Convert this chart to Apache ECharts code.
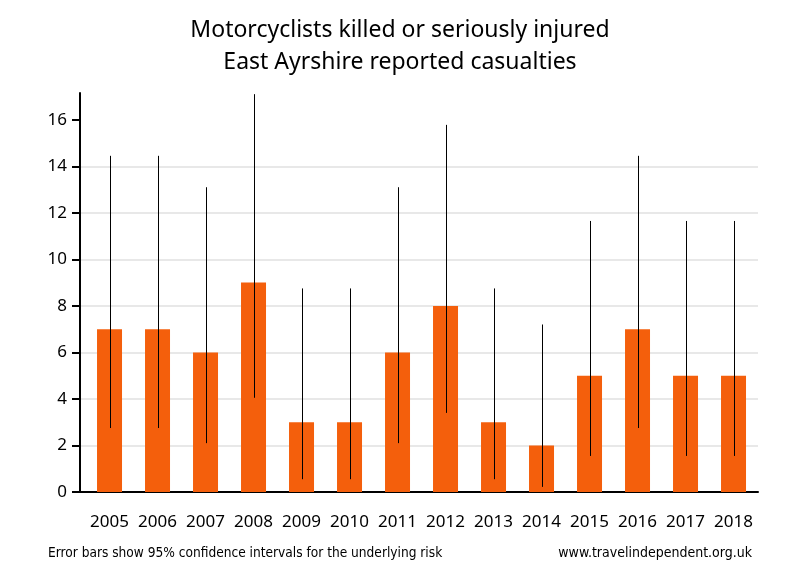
<!DOCTYPE html>
<html>
<head>
<meta charset="utf-8">
<script src="https://cdn.jsdelivr.net/npm/echarts@6/dist/echarts.min.js"></script>
<style>html,body{margin:0;padding:0;background:#fff}#c{width:800px;height:580px}</style>
</head>
<body>
<div id="c"></div>
<script>
const years = [2005,2006,2007,2008,2009,2010,2011,2012,2013,2014,2015,2016,2017,2018];
const casualties = [7,7,6,9,3,3,6,8,3,2,5,7,5,5];
const lowerCI = [2.75,2.75,2.1,4.05,0.55,0.55,2.1,3.4,0.55,0.22,1.55,2.75,1.55,1.55];
const upperCI = [14.45,14.45,13.1,17.1,8.75,8.75,13.1,15.78,8.75,7.2,11.65,14.45,11.65,11.65];
const yTicks = [0,2,4,6,8,10,12,14,16];
const titleText = 'Motorcyclists killed or seriously injured\nEast Ayrshire reported casualties';
const footLeft = 'Error bars show 95% confidence intervals for the underlying risk';
const footRight = 'www.travelindependent.org.uk';

const chart = echarts.init(document.getElementById('c'), null, {renderer:'canvas'});
const bars = years.map((y,i)=>[y, casualties[i]]);
const errs = years.map((y,i)=>[y, lowerCI[i], upperCI[i]]);
const narrow = '"Liberation Sans Narrow","DejaVu Sans Condensed",sans-serif';
chart.setOption({
  backgroundColor:'#fff',
  animation:false,
  title:[
    {text:titleText, left:'center', top:14, padding:0,
     textStyle:{fontFamily:'"Noto Sans",sans-serif', fontSize:23, fontWeight:'normal', color:'#000', lineHeight:32}},
    {text:footLeft, left:48, top:546, padding:0,
     textStyle:{fontFamily:narrow, fontSize:13.6, fontWeight:'normal', color:'#000'}},
    {text:footRight, right:48, top:546, padding:0,
     textStyle:{fontFamily:narrow, fontSize:14, fontWeight:'normal', color:'#000'}}
  ],
  grid:{left:80, right:42, top:93, bottom:88, containLabel:false},
  xAxis:{
    type:'value', min:2004.385, max:2018.51,
    axisLine:{show:true, lineStyle:{color:'#000', width:2}},
    axisTick:{show:false},
    splitLine:{show:false},
    axisLabel:{customValues:years, formatter:function(v){return String(v);}, margin:22, fontSize:17, color:'#000', fontFamily:'"Noto Sans",sans-serif'}
  },
  yAxis:{
    type:'value', min:0, max:17.15,
    axisLine:{show:true, lineStyle:{color:'#000', width:2}},
    axisTick:{show:true, customValues:yTicks, length:8, lineStyle:{color:'#000', width:2}},
    splitLine:{show:true, showMaxLine:false, showMinLine:false, lineStyle:{color:'#e8e8e8', width:2}},
    axisLabel:{customValues:yTicks, margin:13, fontSize:17, color:'#000', fontFamily:'"Noto Sans",sans-serif'}
  },
  series:[
    {type:'bar', data:bars, barWidth:25, itemStyle:{color:'#F45F0C'}, z:2},
    {type:'custom', data:errs, z:3,
     renderItem:function(params, api){
       const x = api.value(0);
       const p1 = api.coord([x, api.value(1)]);
       const p2 = api.coord([x, api.value(2)]);
       return {type:'line', shape:{x1:Math.round(p1[0])+0.5, y1:p1[1], x2:Math.round(p2[0])+0.5, y2:p2[1]},
               style:{stroke:'#000', lineWidth:1}};
     }}
  ]
});
</script>
</body>
</html>
